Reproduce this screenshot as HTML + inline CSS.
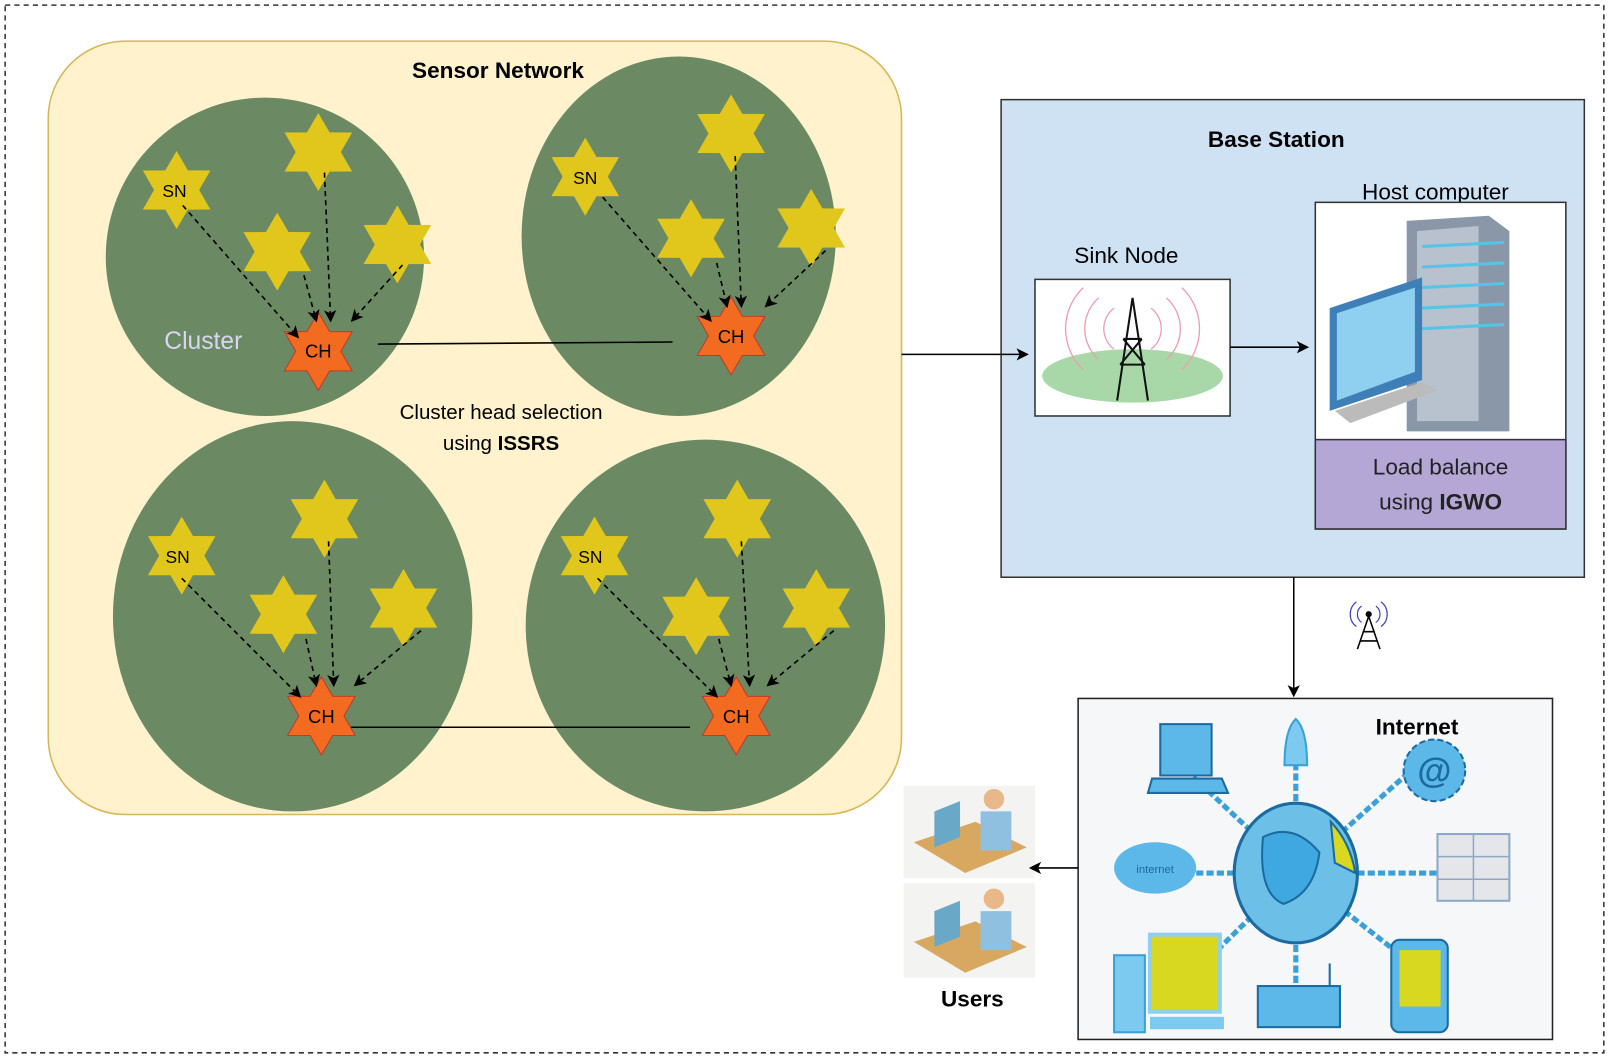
<!DOCTYPE html>
<html><head><meta charset="utf-8"><style>
html,body{margin:0;padding:0;background:#fff;}
svg{display:block;font-family:"Liberation Sans",sans-serif;}
</style></head><body>
<svg width="1610" height="1060" viewBox="0 0 1568 1032" preserveAspectRatio="none" xmlns="http://www.w3.org/2000/svg">
<defs>
<polygon id="st" points="0,-38 11,-19.1 32.9,-19 22,0 32.9,19 11,19.1 0,38 -11,19.1 -32.9,19 -22,0 -32.9,-19 -11,-19.1"/>
<marker id="ah" markerWidth="12" markerHeight="12" refX="10" refY="6" orient="auto" markerUnits="userSpaceOnUse"><path d="M0,0 L12,6 L0,12 L3,6 z" fill="#000"/></marker>
</defs>
<rect x="5" y="5" width="1557" height="1020" fill="none" stroke="#333" stroke-width="1.5" stroke-dasharray="5,4"/>
<rect x="47" y="40" width="831" height="753" rx="75" fill="#fff2cc" stroke="#d6b656" stroke-width="1.5"/>
<ellipse cx="258" cy="250" rx="155" ry="155" fill="#6b8a63"/>
<ellipse cx="661" cy="230" rx="153" ry="175" fill="#6b8a63"/>
<ellipse cx="285" cy="600" rx="175" ry="190" fill="#6b8a63"/>
<ellipse cx="687" cy="609" rx="175" ry="181" fill="#6b8a63"/>
<text x="485" y="76" font-size="22" font-weight="bold" text-anchor="middle">Sensor Network</text>
<text x="198" y="340" font-size="24" fill="#d8d6f0" text-anchor="middle">Cluster</text>
<text x="488" y="408" font-size="20" text-anchor="middle">Cluster head selection</text>
<text x="488" y="438" font-size="20" text-anchor="middle">using <tspan font-weight="bold">ISSRS</tspan></text>
<g stroke="#000" stroke-width="1.5">
<line x1="368" y1="335" x2="655" y2="333"/>
<line x1="340" y1="708" x2="672" y2="708"/>
</g>
<g fill="#e1c61c">
<use href="#st" x="172" y="185"/><use href="#st" x="310" y="148"/><use href="#st" x="270" y="245"/><use href="#st" x="387" y="238"/>
<use href="#st" x="570" y="172"/><use href="#st" x="712" y="130"/><use href="#st" x="673" y="232"/><use href="#st" x="790" y="222"/>
<use href="#st" x="177" y="541"/><use href="#st" x="316" y="505"/><use href="#st" x="276" y="598"/><use href="#st" x="393" y="592"/>
<use href="#st" x="579" y="541"/><use href="#st" x="718" y="505"/><use href="#st" x="678" y="600"/><use href="#st" x="795" y="592"/>
</g>
<g fill="#f26b21" stroke="#c0392b" stroke-width="1">
<use href="#st" x="310" y="342"/><use href="#st" x="712" y="327"/><use href="#st" x="313" y="697"/><use href="#st" x="717" y="697"/>
</g>
<g stroke="#000" stroke-width="1.6" stroke-dasharray="5,4" fill="none" marker-end="url(#ah)">
<path d="M178,200 L290,328"/><path d="M316,168 L322,312"/><path d="M296,268 L308,312"/><path d="M392,258 L343,312"/>
<path d="M587,192 L692,312"/><path d="M716,152 L722,298"/><path d="M698,256 L708,298"/><path d="M804,244 L746,298"/>
<path d="M177,563 L292,678"/><path d="M320,527 L325,667"/><path d="M298,622 L308,667"/><path d="M410,614 L346,667"/>
<path d="M582,563 L698,678"/><path d="M722,527 L730,667"/><path d="M700,622 L712,667"/><path d="M812,614 L748,667"/>
</g>
<g font-size="17" text-anchor="middle">
<text x="170" y="192">SN</text><text x="570" y="179">SN</text><text x="173" y="548">SN</text><text x="575" y="548">SN</text>
<text x="310" y="348" font-size="18">CH</text><text x="712" y="334" font-size="18">CH</text><text x="313" y="704" font-size="18">CH</text><text x="717" y="704" font-size="18">CH</text>
</g>
<!-- base station -->
<rect x="975" y="97" width="568" height="465" fill="#cfe2f3" stroke="#333" stroke-width="1.5"/>
<text x="1243" y="143" font-size="22" font-weight="bold" text-anchor="middle">Base Station</text>
<text x="1097" y="256" font-size="22" text-anchor="middle">Sink Node</text>
<rect x="1008" y="272" width="190" height="133" fill="#fff" stroke="#333" stroke-width="1.5"/>
<ellipse cx="1103" cy="366" rx="88" ry="26" fill="#a8d8a8"/>
<g stroke="#e8a0b0" fill="none" stroke-width="1.3">
<path d="M1085,300 a25,25 0 0 0 0,40"/><path d="M1121,300 a25,25 0 0 1 0,40"/>
<path d="M1070,290 a40,40 0 0 0 0,60"/><path d="M1136,290 a40,40 0 0 1 0,60"/>
<path d="M1055,280 a55,55 0 0 0 0,80"/><path d="M1151,280 a55,55 0 0 1 0,80"/>
</g>
<g stroke="#111" stroke-width="2" fill="none"><path d="M1103,290 L1088,390 M1103,290 L1118,390 M1094,330 L1112,330 M1091,355 L1115,355 M1094,330 L1115,355 M1112,330 L1091,355"/></g>
<text x="1398" y="194" font-size="22" text-anchor="middle">Host computer</text>
<rect x="1281" y="197" width="244" height="318" fill="#fff" stroke="#333" stroke-width="1.5"/>
<path d="M1370,215 L1450,210 L1470,225 L1470,420 L1370,420 Z" fill="#8a97a8"/>
<path d="M1380,225 L1440,220 L1440,410 L1380,410 Z" fill="#b8c2ce"/>
<g stroke="#56c3e8" stroke-width="3"><line x1="1385" y1="240" x2="1465" y2="236"/><line x1="1385" y1="260" x2="1465" y2="256"/><line x1="1385" y1="280" x2="1465" y2="276"/><line x1="1385" y1="300" x2="1465" y2="296"/><line x1="1385" y1="320" x2="1465" y2="316"/></g>
<path d="M1295,300 L1385,270 L1385,370 L1295,400 Z" fill="#3f7fb8"/>
<path d="M1302,305 L1378,280 L1378,362 L1302,390 Z" fill="#8fd0f0"/>
<path d="M1300,400 L1385,372 L1400,380 L1315,412 Z" fill="#bbb"/>
<rect x="1281" y="428" width="244" height="87" fill="#b4a7d6" stroke="#333" stroke-width="1.5"/>
<text x="1403" y="462" font-size="22" text-anchor="middle" fill="#222">Load balance</text>
<text x="1403" y="496" font-size="22" text-anchor="middle" fill="#222">using <tspan font-weight="bold">IGWO</tspan></text>
<!-- tower icon -->
<g stroke="#000" stroke-width="1.5" fill="none"><path d="M1333,600 L1322,632 M1333,600 L1344,632 M1327,615 L1339,615 M1325,624 L1341,624"/></g>
<circle cx="1333" cy="598" r="3" fill="#000"/>
<g stroke="#4444bb" fill="none" stroke-width="1.2"><path d="M1326,590 a10,10 0 0 0 0,16"/><path d="M1340,590 a10,10 0 0 1 0,16"/><path d="M1321,586 a15,15 0 0 0 0,24"/><path d="M1345,586 a15,15 0 0 1 0,24"/></g>
<!-- internet -->
<rect x="1050" y="680" width="462" height="332" fill="#f6f7f8" stroke="#222" stroke-width="1.5"/>
<g stroke="#3aa0d8" stroke-width="5" stroke-dasharray="7,3">
<line x1="1262" y1="850" x2="1262" y2="705"/><line x1="1262" y1="850" x2="1150" y2="745"/><line x1="1262" y1="850" x2="1380" y2="745"/>
<line x1="1262" y1="850" x2="1130" y2="850"/><line x1="1262" y1="850" x2="1400" y2="850"/>
<line x1="1262" y1="850" x2="1150" y2="960"/><line x1="1262" y1="850" x2="1262" y2="975"/><line x1="1262" y1="850" x2="1390" y2="950"/>
</g>
<ellipse cx="1262" cy="850" rx="60" ry="68" fill="#6cc0e8" stroke="#1b6aa0" stroke-width="3"/>
<path d="M1230,815 Q1260,800 1285,830 Q1280,870 1250,880 Q1225,870 1230,815Z" fill="#40a8e0" stroke="#1b6aa0" stroke-width="2"/>
<path d="M1296,800 Q1315,820 1320,850 L1300,840 Z" fill="#d8d820" stroke="#1b6aa0" stroke-width="2"/>
<path d="M1130,705 L1180,705 L1180,755 L1130,755 Z" fill="#5cb8e8" stroke="#1b6aa0" stroke-width="2"/>
<path d="M1122,758 L1190,758 L1196,772 L1118,772 Z" fill="#5cb8e8" stroke="#1b6aa0" stroke-width="2"/>
<path d="M1251,745 Q1251,710 1262,700 Q1273,710 1273,745 Z" fill="#7ccaf0" stroke="#3aa0d8" stroke-width="2"/>
<circle cx="1397" cy="750" r="30" fill="#5cb8e8" stroke="#1b6aa0" stroke-width="2" stroke-dasharray="6,3"/>
<text x="1397" y="762" font-size="34" font-weight="bold" fill="#1b6aa0" text-anchor="middle">@</text>
<ellipse cx="1125" cy="845" rx="40" ry="25" fill="#5cb8e8"/>
<text x="1125" y="850" font-size="11" fill="#1b6aa0" text-anchor="middle">internet</text>
<rect x="1400" y="812" width="70" height="65" fill="#e4e6ea" stroke="#8fa8c8" stroke-width="2"/>
<g stroke="#8fa8c8" stroke-width="1.5"><line x1="1400" y1="834" x2="1470" y2="834"/><line x1="1400" y1="856" x2="1470" y2="856"/><line x1="1435" y1="812" x2="1435" y2="877"/></g>
<rect x="1085" y="930" width="30" height="75" fill="#7ccaf0" stroke="#3aa0d8" stroke-width="2"/>
<rect x="1120" y="910" width="68" height="75" fill="#d8d820" stroke="#8fd0f0" stroke-width="4"/>
<rect x="1120" y="990" width="72" height="12" fill="#7ccaf0"/>
<rect x="1225" y="960" width="80" height="40" fill="#5cb8e8" stroke="#1b6aa0" stroke-width="2"/>
<line x1="1295" y1="960" x2="1295" y2="938" stroke="#1b6aa0" stroke-width="2"/>
<rect x="1355" y="915" width="55" height="90" rx="8" fill="#5cb8e8" stroke="#1b6aa0" stroke-width="2"/>
<rect x="1363" y="925" width="40" height="55" fill="#d8d820"/>
<text x="1380" y="715" font-size="22" font-weight="bold" text-anchor="middle">Internet</text>
<!-- users -->
<g>
<rect x="880" y="765" width="128" height="90" fill="#f3f4f2"/>
<path d="M890,820 L950,800 L1000,825 L940,850 Z" fill="#d9a860"/>
<path d="M910,790 L935,780 L935,815 L910,825 Z" fill="#6aa8c8"/>
<circle cx="968" cy="778" r="10" fill="#e8b888"/>
<path d="M955,790 L985,790 L985,828 L955,828 Z" fill="#8fc0e0"/>
<rect x="880" y="860" width="128" height="92" fill="#f3f4f2"/>
<path d="M890,917 L950,897 L1000,922 L940,947 Z" fill="#d9a860"/>
<path d="M910,887 L935,877 L935,912 L910,922 Z" fill="#6aa8c8"/>
<circle cx="968" cy="875" r="10" fill="#e8b888"/>
<path d="M955,887 L985,887 L985,925 L955,925 Z" fill="#8fc0e0"/>
</g>
<text x="947" y="980" font-size="22" font-weight="bold" text-anchor="middle">Users</text>
<!-- arrows (drawn last) -->
<g stroke="#000" stroke-width="1.5" fill="none" marker-end="url(#ah)">
<line x1="878" y1="345" x2="1000" y2="345"/>
<line x1="1198" y1="338" x2="1273" y2="338"/>
<line x1="1260" y1="562" x2="1260" y2="677"/>
<line x1="1050" y1="845" x2="1004" y2="845"/>
</g>
</svg>
</body></html>
